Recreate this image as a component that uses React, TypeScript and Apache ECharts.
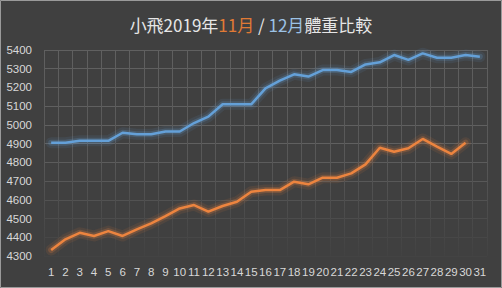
import React, { useEffect, useRef } from "react";
import * as echarts from "echarts";

const days = Array.from({ length: 31 }, (_, i) => String(i + 1));
const novWeight = [4332, 4389, 4424, 4407, 4433, 4407, 4442, 4474, 4513, 4554, 4572, 4537, 4567, 4590, 4643, 4652, 4652, 4697, 4683, 4718, 4718, 4741, 4789, 4878, 4857, 4875, 4925, 4884, 4845, 4905];
const decWeight = [4905, 4905, 4915, 4915, 4915, 4958, 4950, 4950, 4965, 4965, 5010, 5044, 5110, 5110, 5110, 5195, 5236, 5270, 5258, 5293, 5293, 5283, 5323, 5334, 5373, 5347, 5382, 5359, 5359, 5373, 5364];

const BG = "#404040";
const BLUE = "#64a0d8";
const ORANGE = "#ec843f";

function glow(name: string, data: number[], color: string, width: number, opacity: number, z: number) {
  return {
    name,
    type: "line",
    data,
    symbol: "none",
    silent: true,
    z,
    lineStyle: { color, width, opacity, cap: "round", join: "round" },
  };
}

export default function App() {
  const ref = useRef<HTMLDivElement>(null);
  useEffect(() => {
    if (!ref.current) return;
    const chart = echarts.init(ref.current, null, { renderer: "svg" });
    const vGrad = new echarts.graphic.LinearGradient(0, 50, 0, 256, [
      { offset: 0, color: "#606060" },
      { offset: 0.55, color: "#575757" },
      { offset: 1, color: "#424242" },
    ], true);
    chart.setOption({
      animation: false,
      backgroundColor: BG,
      graphic: [
        {
          type: "rect",
          shape: { x: 0.5, y: 0.5, width: 501, height: 287 },
          style: { fill: "none", stroke: "#9a9a9a", lineWidth: 1 },
          silent: true,
        },
      ],
      title: {
        left: "center",
        top: 11,
        text: "{w|小飛2019年}{o|11月}{w| / }{b|12月}{w|體重比較}",
        textStyle: {
          rich: {
            w: { color: "#e6e6e6", fontSize: 17, fontWeight: "normal", fontFamily: "Noto Sans CJK TC" },
            o: { color: "#e07a35", fontSize: 17, fontWeight: "normal", fontFamily: "Noto Sans CJK TC" },
            b: { color: "#9cc2e5", fontSize: 17, fontWeight: "normal", fontFamily: "Noto Sans CJK TC" },
          },
        },
      },
      grid: { left: 44, right: 15, top: 50, bottom: 32 },
      xAxis: {
        type: "category",
        data: days,
        boundaryGap: true,
        axisLine: { show: false },
        axisTick: { show: false },
        axisLabel: { color: "#d8d8d8", fontSize: 11.5, margin: 10, fontFamily: "Liberation Sans", interval: 0 },
        splitLine: { show: true, interval: 0, lineStyle: { color: vGrad, width: 1 } },
      },
      yAxis: {
        type: "value",
        min: 4300,
        max: 5400,
        interval: 100,
        axisLine: { show: false },
        axisTick: { show: false },
        axisLabel: { color: "#d8d8d8", fontSize: 11.5, margin: 12, fontFamily: "Liberation Sans", formatter: (v: number) => String(v) },
        splitLine: {
          lineStyle: {
            color: ["#434343", "#474747", "#4c4c4c", "#525252", "#585858", "#5c5c5c", "#606060", "#606060", "#606060", "#606060", "#606060", "#606060"],
            width: 1,
          },
        },
      },
      series: [
        glow("12月glow1", decWeight, BLUE, 11, 0.1, 1),
        glow("12月glow2", decWeight, BLUE, 6, 0.22, 1),
        glow("11月glow1", novWeight, ORANGE, 11, 0.1, 1),
        glow("11月glow2", novWeight, ORANGE, 6, 0.22, 1),
        {
          name: "12月",
          type: "line",
          data: decWeight,
          symbol: "none",
          z: 3,
          lineStyle: { color: BLUE, width: 2.5 },
        },
        {
          name: "11月",
          type: "line",
          data: novWeight,
          symbol: "none",
          z: 3,
          lineStyle: { color: ORANGE, width: 2.5 },
        },
      ],
    });
    return () => chart.dispose();
  }, []);
  return <div ref={ref} style={{ position: "fixed", left: 0, top: 0, width: 502, height: 288 }} />;
}
